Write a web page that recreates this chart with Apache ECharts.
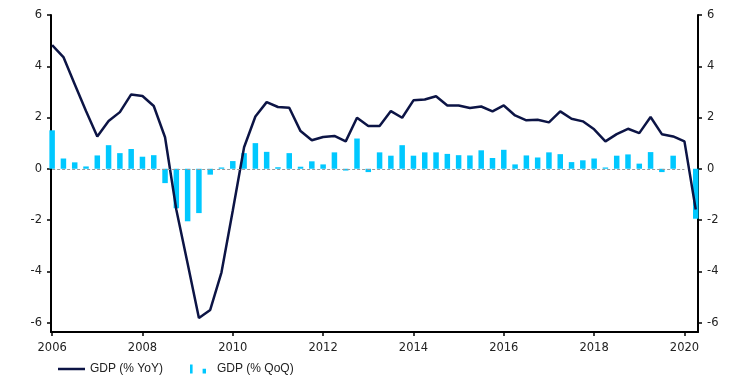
<!DOCTYPE html>
<html>
<head>
<meta charset="utf-8">
<script src="https://cdn.jsdelivr.net/npm/echarts@6/dist/echarts.min.js"></script>
<style>
html,body{margin:0;padding:0;background:#fff;}
#c{width:756px;height:381px;}
</style>
</head>
<body>
<div id="c"></div>
<script>
var categories = [
 '2005Q4',
 '2006Q1','2006Q2','2006Q3','2006Q4','2007Q1','2007Q2','2007Q3','2007Q4',
 '2008Q1','2008Q2','2008Q3','2008Q4','2009Q1','2009Q2','2009Q3','2009Q4',
 '2010Q1','2010Q2','2010Q3','2010Q4','2011Q1','2011Q2','2011Q3','2011Q4',
 '2012Q1','2012Q2','2012Q3','2012Q4','2013Q1','2013Q2','2013Q3','2013Q4',
 '2014Q1','2014Q2','2014Q3','2014Q4','2015Q1','2015Q2','2015Q3','2015Q4',
 '2016Q1','2016Q2','2016Q3','2016Q4','2017Q1','2017Q2','2017Q3','2017Q4',
 '2018Q1','2018Q2','2018Q3','2018Q4','2019Q1','2019Q2','2019Q3','2019Q4',
 '2020Q1'
];
var gdpYoY = [
 4.82, 4.36, 3.30, 2.25, 1.26, 1.86, 2.21, 2.90, 2.84, 2.45,
 1.23, -1.60, -3.70, -5.82, -5.51, -4.04, -1.63, 0.84, 2.04, 2.60,
 2.41, 2.38, 1.47, 1.11, 1.24, 1.28, 1.07, 1.99, 1.67, 1.67,
 2.25, 1.99, 2.67, 2.70, 2.83, 2.47, 2.47, 2.37, 2.43, 2.24,
 2.47, 2.08, 1.89, 1.91, 1.81, 2.24, 1.95, 1.85, 1.54, 1.07,
 1.35, 1.56, 1.39, 2.02, 1.35, 1.26, 1.07, -1.59
];
var gdpQoQ = [
 1.50, 0.40, 0.25, 0.09, 0.52, 0.92, 0.61, 0.77, 0.47, 0.53,
 -0.56, -1.54, -2.05, -1.73, -0.23, 0.05, 0.30, 0.61, 1.00, 0.66,
 0.06, 0.61, 0.08, 0.29, 0.17, 0.64, -0.07, 1.18, -0.13, 0.64,
 0.51, 0.92, 0.51, 0.64, 0.64, 0.58, 0.53, 0.52, 0.72, 0.42,
 0.74, 0.17, 0.52, 0.44, 0.64, 0.57, 0.26, 0.33, 0.40, 0.05,
 0.51, 0.56, 0.20, 0.65, -0.13, 0.51, 0.00, -1.95
];
var xTickIndex = [0, 8, 16, 24, 32, 40, 48, 56];
var xTickLabels = ['2006', '2008', '2010', '2012', '2014', '2016', '2018', '2020'];
var yTicks = [-6, -4, -2, 0, 2, 4, 6];

var chart = echarts.init(document.getElementById('c'), null, {renderer: 'canvas'});
var labelFont = {fontFamily: 'DejaVu Sans', fontSize: 11.5, color: '#222'};

function yAxisDef(pos) {
  return {
    type: 'value', position: pos, min: -6.37, max: 6,
    axisLine: {show: true, onZero: false, lineStyle: {color: '#000', width: 2}},
    axisTick: {show: true, length: 4, lineStyle: {color: '#000', width: 1.5}, customValues: yTicks},
    axisLabel: Object.assign({margin: 9, customValues: yTicks}, labelFont),
    splitLine: {show: false}
  };
}

chart.setOption({
  animation: false,
  backgroundColor: '#fff',
  grid: {left: 51, right: 58, top: 15, bottom: 49, containLabel: false},
  xAxis: {
    type: 'value', min: -0.1, max: 57.2,
    axisLine: {show: true, onZero: false, lineStyle: {color: '#000', width: 2}},
    axisTick: {show: true, length: 4, lineStyle: {color: '#000', width: 1.5}, customValues: xTickIndex},
    axisLabel: Object.assign({
      margin: 10,
      customValues: xTickIndex,
      formatter: function (v) {
        var k = xTickIndex.indexOf(Math.round(v));
        return k >= 0 ? xTickLabels[k] : '';
      }
    }, labelFont),
    splitLine: {show: false}
  },
  yAxis: [yAxisDef('left'), yAxisDef('right')],
  legend: [
    {
      data: [{name: 'GDP (% YoY)', icon: 'rect'}], left: 53, top: 358, itemWidth: 27, itemHeight: 2.5,
      textStyle: {fontFamily: 'Liberation Sans', fontSize: 12, color: '#222'}
    },
    {
      data: [{name: 'GDP (% QoQ)', icon: 'path://M0,0h2.6v9h-2.6z M12.6,4.2h3.4v4.8h-3.4z'}],
      left: 185, top: 358, itemWidth: 16, itemHeight: 9,
      textStyle: {fontFamily: 'Liberation Sans', fontSize: 12, color: '#222', padding: [0, 0, 0, 6]}
    }
  ],
  series: [
    {
      name: 'GDP (% QoQ)', type: 'bar', barWidth: 5.5,
      itemStyle: {color: '#00c8ff'},
      data: gdpQoQ.map(function (v, i) { return [i, v]; }),
      markLine: {
        silent: true, symbol: ['none', 'none'], label: {show: false},
        lineStyle: {color: '#999', type: [3, 2], width: 1},
        data: [[{coord: [0, 0]}, {coord: [56, 0]}]]
      },
      z: 2
    },
    {
      name: 'GDP (% YoY)', type: 'line', showSymbol: false, symbol: 'none',
      lineStyle: {color: '#0c1445', width: 2.5},
      itemStyle: {color: '#0c1445'},
      data: gdpYoY.map(function (v, i) { return [i, v]; }),
      z: 3
    }
  ]
});
</script>
</body>
</html>
